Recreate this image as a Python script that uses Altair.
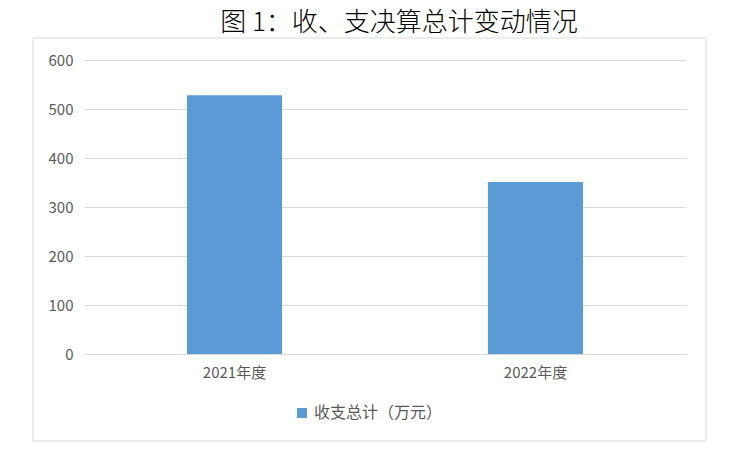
import altair as alt
import pandas as pd

TITLE = "图 1：收、支决算总计变动情况"
categories = ["2021年度", "2022年度"]
values = [528, 351]
series_name = "收支总计（万元）"
y_ticks = [0, 100, 200, 300, 400, 500, 600]

FONT = "Noto Sans CJK SC"

df = pd.DataFrame({"year": categories, "value": values, "series": [series_name] * len(categories)})

bars = alt.Chart(df).mark_bar(color="#5b9bd5").encode(
    x=alt.X("year:N", sort=categories, title=None,
            scale=alt.Scale(paddingInner=0.684, paddingOuter=0.342),
            axis=alt.Axis(labelAngle=0, ticks=False, domainColor="#d9d9d9",
                          labelColor="#595959", labelFontSize=15, labelFont=FONT,
                          labelPadding=11, grid=False)),
    y=alt.Y("value:Q", title=None,
            scale=alt.Scale(domain=[0, 600]),
            axis=alt.Axis(values=y_ticks, ticks=False, domain=False, gridColor="#d9d9d9",
                          labelColor="#595959", labelFontSize=15, labelFont=FONT,
                          labelPadding=11)),
    color=alt.Color("series:N", title=None,
                    scale=alt.Scale(range=["#5b9bd5"]),
                    legend=alt.Legend(orient="none", legendX=210, legendY=345,
                                      symbolType="square", symbolSize=100,
                                      symbolStrokeWidth=0, labelFontSize=16,
                                      labelColor="#595959", labelFont=FONT)),
)

title_df = pd.DataFrame({"t": [TITLE]})
title = alt.Chart(title_df).mark_text(fontSize=26, font=FONT, fontWeight=300,
                                      color="#000000",
                                      align="center", baseline="middle").encode(
    text="t:N", x=alt.value(315), y=alt.value(-37))

border = alt.Chart(pd.DataFrame({"k": [0]})).mark_rect(
    fillOpacity=0, stroke="#d9d9d9", strokeWidth=1).encode(
    x=alt.value(-51), x2=alt.value(622), y=alt.value(-22), y2=alt.value(381))

chart = alt.layer(border, bars, title).properties(
    width=602, height=294,
    autosize=alt.AutoSizeParams(type="none"),
    padding={"left": 76, "top": 52, "right": 36, "bottom": 89},
).configure_view(stroke=None)

chart.save("out.html", embed_options={"renderer": "svg", "actions": False})
